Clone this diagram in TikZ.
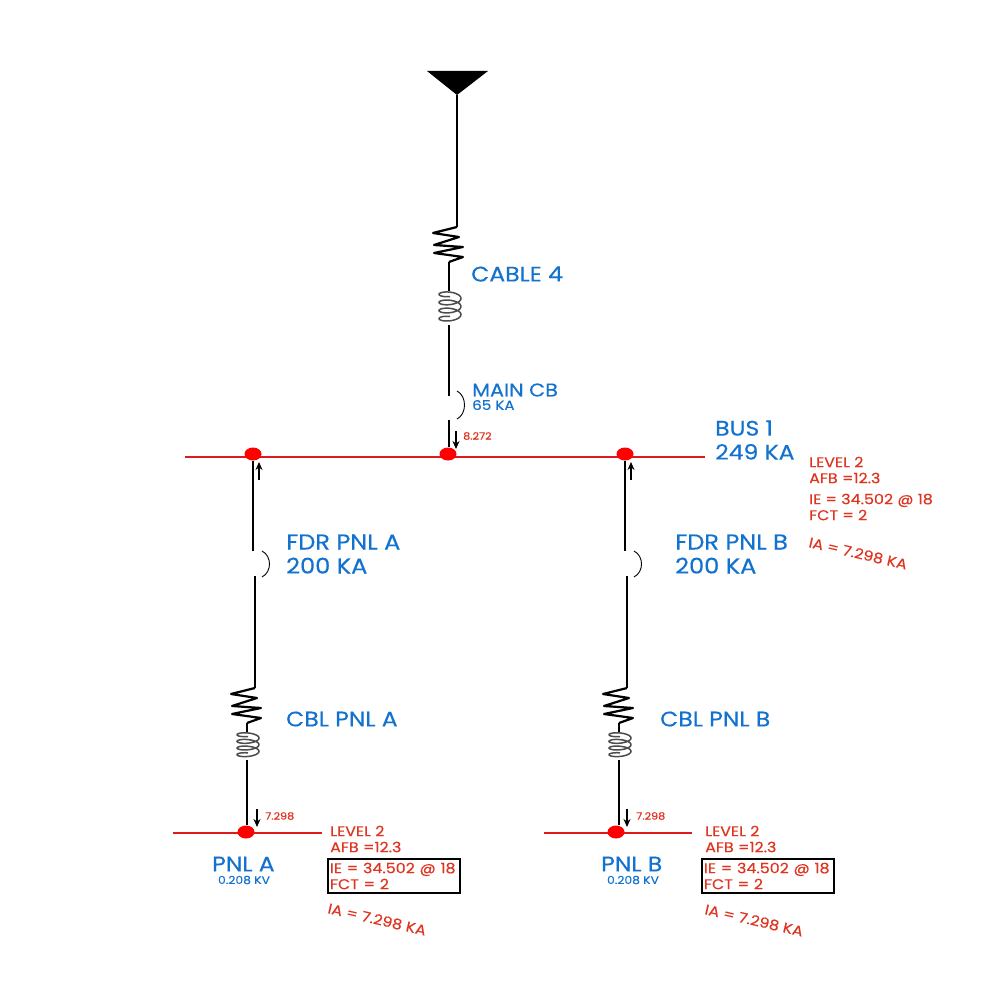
\documentclass[tikz,border=0pt]{standalone}
\usepackage{fontspec}
\setmainfont[FakeStretch=1.12,FakeBold=0.35]{Poppins}
\usepackage{xcolor}
\usetikzlibrary{arrows.meta}
\usetikzlibrary{shapes.geometric}
\definecolor{lblblue}{HTML}{1272CE}
\definecolor{lblred}{HTML}{DF3420}
\definecolor{busred}{HTML}{DD1A20}
\tikzset{
	wire/.style={line width=2pt, color=black},
	busbar/.style={line width=2pt, color=busred},
	busdot/.style={shape=ellipse, fill=red, minimum width=17pt, minimum height=13pt, inner sep=0pt},
	tripbow/.style={line width=0.9pt, color=black},
	flow/.style={-{Stealth[length=8pt,width=7pt]}, line width=1.3pt, color=black},
	biglbl/.style={color=lblblue, anchor=west, align=left, inner sep=0pt, font=\fontsize{21}{24}\selectfont},
	smalllbl/.style={color=lblblue, anchor=center, inner sep=0pt, font=\fontsize{11}{12}\selectfont},
	reddata/.style={color=lblred, anchor=west, align=left, inner sep=0pt, font=\fontsize{14.2}{16}\selectfont},
	boxdata/.style={reddata, draw=black, line width=2pt, inner xsep=2pt, inner ysep=3.5pt, text width=128pt},
	currlbl/.style={color=lblred, anchor=west, inner sep=0pt, font=\fontsize{10}{12}\selectfont},
	resistor/.pic={
		\draw[line width=2.2pt, line join=round] (0,0) -- (-24,6) -- (2,10) -- (-23,18) -- (6,20) -- (-23,26) -- (6,30) -- (-8,35);
	},
	coil/.pic={
		\draw[line width=1.5pt, color=black!70, smooth] plot[domain=90:1350, samples=90] ({11*cos(\x)+1},{1.3+0.0225*(\x-90)+4.2*sin(\x)});
	}
}
\begin{document}
\begin{tikzpicture}[x=1pt,y=-1pt]
	\useasboundingbox (0,0) rectangle (1000,1000);

	% source
	\fill (427,71) -- (488,71) -- (457,95) -- cycle;
	\coordinate (srcTip) at (457,95);

	% bus bars
	\coordinate (busOneW) at (185,457);
	\coordinate (busOneE) at (705,457);
	\coordinate (pnlAW) at (173,833);
	\coordinate (pnlAE) at (322,833);
	\coordinate (pnlBW) at (544,833);
	\coordinate (pnlBE) at (692,833);
	\draw[busbar] (busOneW) -- (busOneE);
	\draw[busbar] (pnlAW) -- (pnlAE);
	\draw[busbar] (pnlBW) -- (pnlBE);

	\node[busdot] (dotL) at (253,454) {};
	\node[busdot] (dotM) at (448,454) {};
	\node[busdot] (dotR) at (625,454) {};
	\node[busdot] (dotA) at (246,832) {};
	\node[busdot] (dotB) at (616,832) {};

	% main branch
	\coordinate (resMainT) at (457,227);
	\coordinate (resMainB) at (449,262);
	\coordinate (coilMainT) at (449,291);
	\coordinate (coilMainB) at (449,325);
	\coordinate (cbMainT) at (449,396);
	\coordinate (cbMainB) at (449,420);
	\draw[wire] (srcTip) -- (resMainT);
	\pic at (resMainT) {resistor};
	\draw[wire] (resMainB) -- (coilMainT);
	\pic at (coilMainT) {coil};
	\draw[wire] (coilMainB) -- (cbMainT);
	\draw[wire] (cbMainB) -- (cbMainB |- dotM.north);
	\coordinate (bowMainT) at (457,391);
	\coordinate (bowMainB) at (457,419);
	\draw[tripbow] (bowMainT) .. controls (467,396) and (467,414) .. (bowMainB);

	% feeder A
	\coordinate (cbAT) at (253,551);
	\coordinate (cbAB) at (255,576);
	\coordinate (resAT) at (255,688);
	\coordinate (resAB) at (247,723);
	\coordinate (coilAT) at (247,732);
	\coordinate (coilAB) at (247,760);
	\draw[wire] (dotL) -- (cbAT);
	\draw[wire] (cbAB) -- (resAT);
	\pic at (resAT) {resistor};
	\draw[wire] (resAB) -- (coilAT);
	\pic[yscale=0.82] at (coilAT) {coil};
	\draw[wire] (coilAB) -- (coilAB |- dotA.north);
	\coordinate (bowAT) at (262,551);
	\coordinate (bowAB) at (262,577);
	\draw[tripbow] (bowAT) .. controls (272,556) and (272,572) .. (bowAB);

	% feeder B
	\coordinate (cbBT) at (625,551);
	\coordinate (cbBB) at (627,576);
	\coordinate (resBT) at (627,688);
	\coordinate (resBB) at (619,723);
	\coordinate (coilBT) at (619,732);
	\coordinate (coilBB) at (619,760);
	\draw[wire] (dotR) -- (cbBT);
	\draw[wire] (cbBB) -- (resBT);
	\pic at (resBT) {resistor};
	\draw[wire] (resBB) -- (coilBT);
	\pic[yscale=0.82] at (coilBT) {coil};
	\draw[wire] (coilBB) -- (coilBB |- dotB.north);
	\coordinate (bowBT) at (634,551);
	\coordinate (bowBB) at (634,577);
	\draw[tripbow] (bowBT) .. controls (644,556) and (644,572) .. (bowBB);

	% flow arrows
	\coordinate (flowMS) at (456,431);
	\coordinate (flowME) at (456,449);
	\coordinate (flowLS) at (259,480);
	\coordinate (flowLE) at (259,462);
	\coordinate (flowRS) at (631,480);
	\coordinate (flowRE) at (631,462);
	\coordinate (flowAS) at (257,809);
	\coordinate (flowAE) at (257,827);
	\coordinate (flowBS) at (627,809);
	\coordinate (flowBE) at (627,827);
	\draw[flow] (flowMS) -- (flowME);
	\draw[flow] (flowLS) -- (flowLE);
	\draw[flow] (flowRS) -- (flowRE);
	\draw[flow] (flowAS) -- (flowAE);
	\draw[flow] (flowBS) -- (flowBE);

	% blue labels
	\node[biglbl] (lblCable) at (471,274) {CABLE 4};
	\node[biglbl, font=\fontsize{18.5}{20}\selectfont] (lblMain) at (472,390) {MAIN CB};
	\node[smalllbl, anchor=west, font=\fontsize{13.5}{14}\selectfont] (lblMainKa) at (472,405) {65 KA};
	\node[biglbl] (lblBus) at (715,440) {BUS 1\\249 KA};
	\node[biglbl, font=\fontsize{21.5}{24}\selectfont] (lblFdrA) at (286,554) {FDR PNL A\\200 KA};
	\node[biglbl, font=\fontsize{21.5}{24}\selectfont] (lblFdrB) at (675,554) {FDR PNL B\\200 KA};
	\node[biglbl] (lblCblA) at (286,719) {CBL PNL A};
	\node[biglbl] (lblCblB) at (660,719) {CBL PNL B};
	\node[biglbl] (lblPnlA) at (212,864) {PNL A};
	\node[smalllbl] (lblKvA) at (244,880) {0.208 KV};
	\node[biglbl] (lblPnlB) at (601,864) {PNL B};
	\node[smalllbl] (lblKvB) at (633,880) {0.208 KV};

	% current values
	\node[currlbl] (curM) at (463,436) {8.272};
	\node[currlbl] (curA) at (265,816) {7.298};
	\node[currlbl] (curB) at (636,816) {7.298};

	% red data
	\node[reddata] (dataBus) at (809,470) {LEVEL 2\\AFB =12.3};
	\node[reddata] (dataBusIe) at (809,507) {IE = 34.502 @ 18\\FCT = 2};
	\node[reddata, rotate=-13] (dataBusIa) at (809,542) {IA = 7.298 KA};

	\node[reddata] (dataA) at (330,839) {LEVEL 2\\AFB =12.3};
	\node[boxdata] (dataAIe) at (327,876) {IE = 34.502 @ 18\\FCT = 2};
	\node[reddata, rotate=-13] (dataAIa) at (328,908) {IA = 7.298 KA};

	\node[reddata] (dataB) at (705,839) {LEVEL 2\\AFB =12.3};
	\node[boxdata] (dataBIe) at (701,876) {IE = 34.502 @ 18\\FCT = 2};
	\node[reddata, rotate=-13] (dataBIa) at (705,909) {IA = 7.298 KA};
\end{tikzpicture}
\end{document}
